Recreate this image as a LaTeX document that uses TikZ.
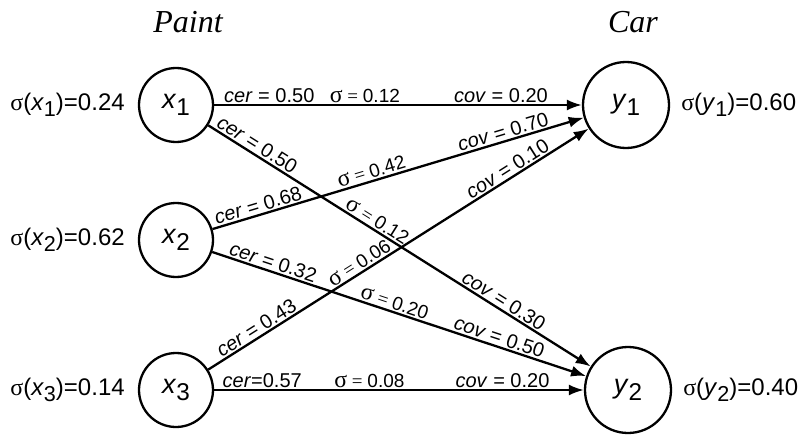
\documentclass[tikz,border=0pt]{standalone}
\usepackage{fontspec}
\setmainfont{Liberation Sans}
\newfontfamily\serif{Liberation Serif}
\usetikzlibrary{arrows.meta,positioning}

\newcommand\sgeq{{\serif\scalebox{1.25}{σ} = }}
\newcommand\sub[1]{\raisebox{-.5ex}{\scalebox{.9}{#1}}}

\begin{document}
\begin{tikzpicture}[x=1pt,y=-1pt,line width=2.3pt,>={Latex[length=15pt,width=11pt]},auto,sloped]
	\tikzstyle{var}=[circle,draw,inner sep=0pt,font=\fontsize{27}{27}\selectfont]
	\tikzstyle{lab}=[inner sep=0pt,font=\fontsize{24}{24}\selectfont]
	\tikzstyle{title}=[font=\fontsize{32}{32}\serif\itshape]
	\tikzstyle{cc}=[inner sep=1.5pt,font=\fontsize{20}{20}\selectfont]
	\tikzstyle{ss}=[inner sep=1.5pt,font=\fontsize{19}{19}\selectfont]
	\useasboundingbox (0,0) rectangle (801,436);

	\node[var,minimum size=74pt](x1) at (176,105){\textit{x}\sub{1}};
	\node[var,minimum size=74pt](x2)[below of=x1,node distance=135pt]{\textit{x}\sub{2}};
	\node[var,minimum size=74pt](x3)[below of=x2,node distance=150pt]{\textit{x}\sub{3}};
	\node[var,minimum size=86pt](y1)[right of=x1,node distance=450pt]{\textit{y}\sub{1}};
	\node[var,minimum size=86pt](y2)[right of=x3,node distance=452pt]{\textit{y}\sub{2}};

	\node[title](paint) at (188,22){Paint};
	\node[title](car) at (633,22){Car};

	\node[lab](sx1)[left=12pt of x1]{{\serif σ}(\textit{x}\sub{1})=0.24};
	\node[lab](sx2)[left=12pt of x2]{{\serif σ}(\textit{x}\sub{2})=0.62};
	\node[lab](sx3)[left=12pt of x3]{{\serif σ}(\textit{x}\sub{3})=0.14};
	\node[lab](sy1)[right=10pt of y1]{{\serif σ}(\textit{y}\sub{1})=0.60};
	\node[lab](sy2)[right=10pt of y2]{{\serif σ}(\textit{y}\sub{2})=0.40};

	\path[->] (x1) edge node[cc,pos=.15]{\textit{cer} = 0.50} node[ss,pos=.41]{\sgeq0.12} node[cc,pos=.78]{\textit{cov} = 0.20} (y1);
	\path[->] (x1) edge node[cc,pos=.115]{\textit{cer} = 0.50} node[ss,pos=.43]{\sgeq0.12} node[cc,pos=.76]{\textit{cov} = 0.30} (y2);
	\path[->] (x2) edge node[cc,pos=.13]{\textit{cer} = 0.68} node[ss,pos=.435]{\sgeq0.42} node[cc,pos=.79]{\textit{cov} = 0.70} (y1);
	\path[->] (x2) edge node[cc,pos=.155]{\textit{cer} = 0.32} node[ss,pos=.48]{\sgeq0.20} node[cc,pos=.76]{\textit{cov} = 0.50} (y2);
	\path[->] (x3) edge node[cc,pos=.14]{\textit{cer} = 0.43} node[ss,pos=.41]{\sgeq0.06} node[cc,pos=.80]{\textit{cov} = 0.10} (y1);
	\path[->] (x3) edge node[cc,pos=.13]{\textit{cer}=0.57} node[ss,pos=.42]{\sgeq0.08} node[cc,pos=.78]{\textit{cov} = 0.20} (y2);
\end{tikzpicture}
\end{document}
